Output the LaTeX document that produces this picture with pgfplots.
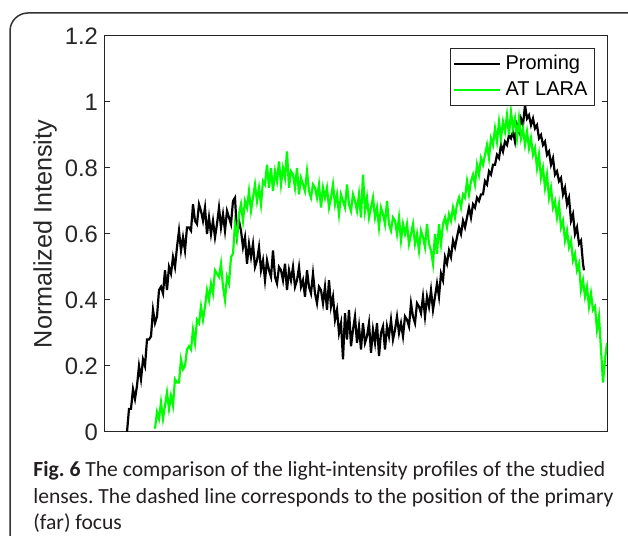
\documentclass[border=0pt]{standalone}
\usepackage{pgfplots}
\pgfplotsset{compat=1.18}
\usepackage{fontspec}
\setmainfont{Liberation Sans}
\newfontfamily\capfont{Carlito}
\definecolor{axgray}{RGB}{38,38,38}
\definecolor{mgreen}{RGB}{0,255,0}
\definecolor{capgray}{RGB}{35,31,32}

\pgfplotstableread{
x y
127 0.00
129 0.07
131 0.07
133 0.13
135 0.10
137 0.14
139 0.20
141 0.16
143 0.22
145 0.20
147 0.28
149 0.28
151 0.29
153 0.37
155 0.33
157 0.35
159 0.43
161 0.44
163 0.42
165 0.49
167 0.43
169 0.50
171 0.48
173 0.53
175 0.50
177 0.56
179 0.61
181 0.55
183 0.59
185 0.55
187 0.62
189 0.62
191 0.61
193 0.69
195 0.64
197 0.63
199 0.69
201 0.67
203 0.64
205 0.68
207 0.60
209 0.65
211 0.60
213 0.64
215 0.59
217 0.63
219 0.68
221 0.62
223 0.66
225 0.61
227 0.67
229 0.65
231 0.63
233 0.70
235 0.71
237 0.60
239 0.64
241 0.61
243 0.56
245 0.59
247 0.51
249 0.57
251 0.53
253 0.57
255 0.50
257 0.52
259 0.56
261 0.49
263 0.52
265 0.46
267 0.52
269 0.49
271 0.47
273 0.55
275 0.47
277 0.45
279 0.50
281 0.49
283 0.46
285 0.51
287 0.43
289 0.49
291 0.46
293 0.50
295 0.44
297 0.46
299 0.50
301 0.44
303 0.46
305 0.41
307 0.49
309 0.44
311 0.42
313 0.48
315 0.42
317 0.39
319 0.44
321 0.43
323 0.39
325 0.44
327 0.37
329 0.46
331 0.38
333 0.41
335 0.34
337 0.37
339 0.30
341 0.33
343 0.22
345 0.36
347 0.28
349 0.37
351 0.26
353 0.31
355 0.35
357 0.27
359 0.32
361 0.25
363 0.33
365 0.27
367 0.29
369 0.33
371 0.24
373 0.31
375 0.27
377 0.33
379 0.23
381 0.30
383 0.32
385 0.25
387 0.32
389 0.29
391 0.34
393 0.28
395 0.31
397 0.35
399 0.30
401 0.33
403 0.29
405 0.35
407 0.34
409 0.32
411 0.39
413 0.35
415 0.33
417 0.39
419 0.38
421 0.36
423 0.41
425 0.35
427 0.41
429 0.38
431 0.43
433 0.37
435 0.41
437 0.45
439 0.41
441 0.48
443 0.46
445 0.53
447 0.51
449 0.55
451 0.53
453 0.58
455 0.56
457 0.59
459 0.62
461 0.60
463 0.64
465 0.62
467 0.65
469 0.68
471 0.65
473 0.69
475 0.68
477 0.71
479 0.70
481 0.72
483 0.72
485 0.76
487 0.75
489 0.79
491 0.78
493 0.81
495 0.81
497 0.84
499 0.83
501 0.87
503 0.85
505 0.88
507 0.87
509 0.90
511 0.89
513 0.91
515 0.88
517 0.93
519 0.91
521 0.95
523 0.93
525 0.99
527 0.95
529 0.96
531 0.93
533 0.95
535 0.92
537 0.93
539 0.89
541 0.90
543 0.87
545 0.88
547 0.84
549 0.85
551 0.81
553 0.83
555 0.78
557 0.79
559 0.76
561 0.77
563 0.72
565 0.74
567 0.69
569 0.71
571 0.64
573 0.66
575 0.60
577 0.62
579 0.57
581 0.58
583 0.51
584 0.49
}\proming

\pgfplotstableread{
x y
155 0.01
157 0.06
159 0.04
161 0.09
163 0.04
165 0.08
167 0.12
169 0.07
171 0.11
173 0.08
175 0.16
177 0.15
179 0.15
181 0.22
183 0.19
185 0.20
187 0.25
189 0.26
191 0.25
193 0.31
195 0.27
197 0.34
199 0.33
201 0.38
203 0.34
205 0.38
207 0.43
209 0.40
211 0.45
213 0.42
215 0.49
217 0.48
219 0.47
221 0.51
223 0.44
225 0.40
227 0.47
229 0.45
231 0.53
233 0.54
235 0.63
237 0.59
239 0.66
241 0.69
243 0.64
245 0.70
247 0.68
249 0.73
251 0.67
253 0.71
255 0.75
257 0.70
259 0.74
261 0.69
263 0.76
265 0.75
267 0.81
269 0.74
271 0.80
273 0.73
275 0.79
277 0.76
279 0.82
281 0.75
283 0.80
285 0.77
287 0.85
289 0.74
291 0.79
293 0.78
295 0.74
297 0.80
299 0.72
301 0.77
303 0.75
305 0.73
307 0.79
309 0.73
311 0.71
313 0.75
315 0.74
317 0.71
319 0.75
321 0.68
323 0.74
325 0.71
327 0.74
329 0.68
331 0.71
333 0.75
335 0.69
337 0.72
339 0.66
341 0.72
343 0.70
345 0.68
347 0.75
349 0.69
351 0.67
353 0.72
355 0.70
357 0.67
359 0.72
361 0.65
363 0.78
365 0.67
367 0.71
369 0.65
371 0.68
373 0.71
375 0.65
377 0.68
379 0.62
381 0.68
383 0.66
385 0.63
387 0.70
389 0.63
391 0.61
393 0.65
395 0.64
397 0.60
399 0.65
401 0.58
403 0.63
405 0.60
407 0.63
409 0.57
411 0.60
413 0.63
415 0.57
417 0.60
419 0.55
421 0.61
423 0.59
425 0.56
427 0.63
429 0.57
431 0.55
433 0.51
435 0.60
437 0.54
439 0.63
441 0.57
443 0.63
445 0.65
447 0.62
449 0.66
451 0.64
453 0.68
455 0.65
457 0.69
459 0.71
461 0.68
463 0.72
465 0.71
467 0.76
469 0.72
471 0.76
473 0.78
475 0.75
477 0.81
479 0.78
481 0.83
483 0.81
485 0.84
487 0.87
489 0.83
491 0.89
493 0.87
495 0.92
497 0.88
499 0.94
501 0.89
503 0.94
505 0.91
507 0.96
509 0.90
511 0.97
513 0.92
515 0.95
517 0.89
519 0.95
521 0.89
523 0.92
525 0.87
527 0.91
529 0.86
531 0.89
533 0.84
535 0.86
537 0.80
539 0.84
541 0.77
543 0.80
545 0.74
547 0.78
549 0.71
551 0.74
553 0.68
555 0.70
557 0.65
559 0.69
561 0.62
563 0.64
565 0.58
567 0.61
569 0.56
571 0.58
573 0.52
575 0.54
577 0.49
579 0.51
581 0.43
583 0.46
585 0.41
587 0.44
589 0.38
591 0.42
593 0.37
595 0.38
597 0.31
599 0.35
601 0.25
603 0.15
605 0.22
607 0.27
}\atlara

\begin{document}
\frenchspacing
\begin{tikzpicture}[x=0.5pt,y=0.5pt]
\useasboundingbox (0,0) rectangle (628,536);
\begin{scope}
\clip (0,0) rectangle (628,536);
\draw[line width=0.75pt, color=black!80, rounded corners=9] (10,-20) -- (10,523) -- (660,523);
\end{scope}
\begin{axis}[
  at={(52.5pt,52pt)}, anchor=south west,
  scale only axis, width=251pt, height=198pt,
  xmin=105, xmax=607, ymin=0, ymax=1.2,
  xtick=\empty,
  ytick={0,0.2,0.4,0.6,0.8,1,1.2},
  ytick pos=both, tick align=inside,
  major tick length=2.5pt,
  axis line style={axgray, line width=0.5pt},
  every tick/.style={axgray, line width=0.5pt},
  /pgf/number format/assume math mode=true,
  tick label style={font=\fontsize{11.9}{14}\selectfont, color=axgray},
  ylabel={Normalized Intensity},
  every axis y label/.style={at={(axis description cs:-0.1195,0.5)}, rotate=90, anchor=center, font=\fontsize{12.6}{15}\selectfont, color=axgray},
  legend style={at={(rel axis cs:0.976,0.970)}, anchor=north east, draw=axgray, line width=0.5pt, fill=white, font=\fontsize{10}{12}\selectfont, inner xsep=1.5pt, inner ysep=1.5pt, row sep=0.5pt},
  legend cell align=left,
  legend image code/.code={\draw[#1] (0pt,0pt) -- (23pt,0pt);},
]
\addplot[black, line width=1.1pt] table[x=x,y=y] {\proming};
\addlegendentry{Proming}
\addplot[mgreen, line width=1.1pt] table[x=x,y=y] {\atlara};
\addlegendentry{AT LARA}
\end{axis}
\begin{scope}[every node/.style={anchor=base west, inner sep=0pt, color=capgray, font=\capfont\fontsize{10.8}{13}\selectfont}]
\node at (33,59) {\textbf{Fig. 6} The comparison of the light-intensity profiles of the studied};
\node at (33,32) {lenses. The dashed line corresponds to the position of the primary};
\node at (33,6) {(far) focus};
\end{scope}
\end{tikzpicture}
\end{document}
